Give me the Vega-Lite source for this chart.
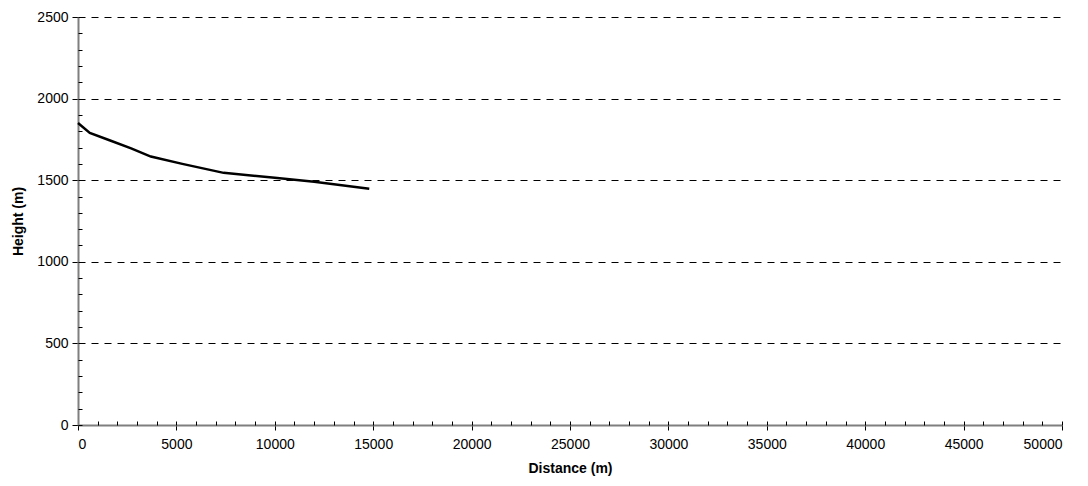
{
  "$schema": "https://vega.github.io/schema/vega-lite/v6.json",
  "width": 984,
  "height": 408,
  "autosize": {"type": "none"},
  "padding": {"left": 78, "top": 17, "right": 26, "bottom": 61},
  "background": "white",
  "config": {
    "view": {"stroke": null},
    "font": "Liberation Sans",
    "axis": {"labelFont": "Liberation Sans", "titleFont": "Liberation Sans", "labelColor": "black", "titleColor": "black"}
  },
  "data": {"values": [
    {"distance": 0, "height": 1850},
    {"distance": 600, "height": 1790},
    {"distance": 1600, "height": 1745},
    {"distance": 2700, "height": 1695},
    {"distance": 3700, "height": 1645},
    {"distance": 5300, "height": 1600},
    {"distance": 7400, "height": 1545},
    {"distance": 10000, "height": 1515},
    {"distance": 12000, "height": 1490},
    {"distance": 14800, "height": 1448}
  ]},
  "layer": [
    {
      "mark": {"type": "line", "color": "black", "strokeWidth": 2.5},
      "encoding": {
        "x": {"field": "distance", "type": "quantitative", "scale": {"domain": [0, 50000], "nice": false},
          "axis": {"orient": "bottom", "values": [0,5000,10000,15000,20000,25000,30000,35000,40000,45000,50000], "format": "d", "grid": false,
            "domainColor": "#7f7f7f", "domainWidth": 2, "tickColor": "black", "tickSize": 5, "labelFontSize": 14, "labelPadding": 7,
            "title": "Distance (m)", "titleFontSize": 14, "titleFontWeight": "bold", "titlePadding": 10}},
        "y": {"field": "height", "type": "quantitative", "scale": {"domain": [0, 2500], "nice": false},
          "axis": {"orient": "left", "values": [0,500,1000,1500,2000,2500], "format": "d", "grid": true, "gridDash": [7, 6], "gridColor": "black", "gridWidth": 1,
            "domainColor": "#7f7f7f", "domainWidth": 2, "tickColor": "black", "tickSize": 6, "labelFontSize": 14, "labelPadding": 4,
            "title": "Height (m)", "titleFontSize": 14, "titleFontWeight": "bold", "titlePadding": 11}}
      }
    },
    {
      "mark": {"type": "line", "opacity": 0},
      "encoding": {
        "x": {"field": "distance", "type": "quantitative", "scale": {"domain": [0, 50000], "nice": false},
          "axis": {"orient": "bottom", "values": [0,1000,2000,3000,4000,5000,6000,7000,8000,9000,10000,11000,12000,13000,14000,15000,16000,17000,18000,19000,20000,21000,22000,23000,24000,25000,26000,27000,28000,29000,30000,31000,32000,33000,34000,35000,36000,37000,38000,39000,40000,41000,42000,43000,44000,45000,46000,47000,48000,49000,50000],
            "labels": false, "domain": false, "grid": false, "tickColor": "black", "tickSize": -4, "title": null}},
        "y": {"field": "height", "type": "quantitative", "scale": {"domain": [0, 2500], "nice": false},
          "axis": {"orient": "left", "values": [0,100,200,300,400,500,600,700,800,900,1000,1100,1200,1300,1400,1500,1600,1700,1800,1900,2000,2100,2200,2300,2400,2500],
            "labels": false, "domain": false, "grid": false, "tickColor": "black", "tickSize": -4, "title": null}}
      }
    }
  ],
  "resolve": {"scale": {"x": "independent", "y": "independent"}, "axis": {"x": "independent", "y": "independent"}}
}
